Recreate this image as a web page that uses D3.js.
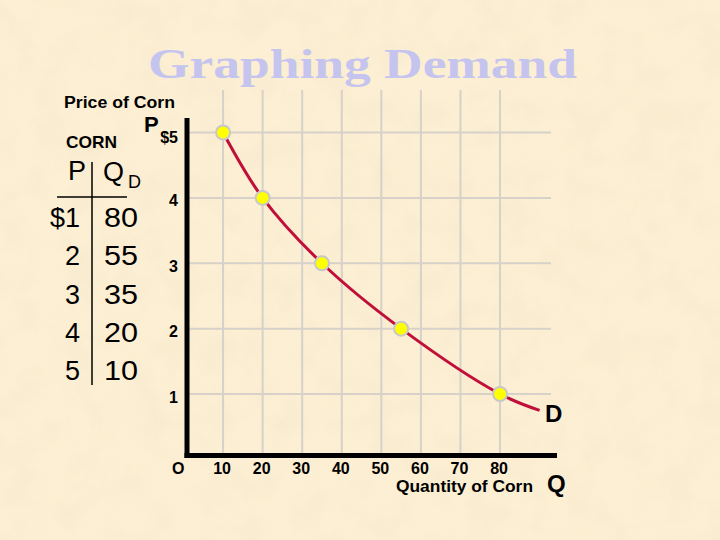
<!DOCTYPE html>
<html>
<head>
<meta charset="utf-8">
<script src="https://cdn.jsdelivr.net/npm/d3@7"></script>
<style>
  html, body { margin: 0; padding: 0; background: #fbedd0; }
  svg { display: block; font-family: Arial, "Liberation Sans", sans-serif; }
</style>
</head>
<body>
<svg id="chart" width="720" height="540"></svg>
<script>
// ---- data ----
const prices = [1, 2, 3, 4, 5];
const quantities = [80, 55, 35, 20, 10];
const priceLabels = ["$1", "2", "3", "4", "5"];
const xTicks = [10, 20, 30, 40, 50, 60, 70, 80];
const yTicks = [1, 2, 3, 4, 5];
const curveEnd = { q: 90, p: 0.75 };   // demand curve continues past the last point
const titleText = "Graphing Demand";

const svg = d3.select("#chart");
const W = 720, H = 540;
const SANS = "Arial, 'Liberation Sans', sans-serif";

// ---- background (parchment) ----
const defs = svg.append("defs");
const f = defs.append("filter").attr("id", "paper").attr("x", 0).attr("y", 0).attr("width", 1).attr("height", 1);
f.append("feTurbulence").attr("type", "fractalNoise").attr("baseFrequency", "0.03").attr("numOctaves", 4).attr("seed", 7);
f.append("feColorMatrix").attr("type", "matrix")
  .attr("values", "0 0 0 0 0.92  0 0 0 0 0.80  0 0 0 0 0.60  0 0 0 -1.8 1.1");
svg.append("rect").attr("width", W).attr("height", H).attr("fill", "#fcefd3");
svg.append("rect").attr("width", W).attr("height", H).attr("filter", "url(#paper)").attr("opacity", 0.6);

// ---- scales ----
const x = d3.scaleLinear().domain([0, 90]).range([183.5, 539.6]);
const y = d3.scaleLinear().domain([0, 5]).range([459.4, 132.5]);

// ---- grid ----
const grid = svg.append("g").attr("stroke", "#d6d1c9").attr("stroke-width", 2);
grid.selectAll("line.v").data(xTicks).join("line").attr("class", "v")
  .attr("x1", d => x(d)).attr("x2", d => x(d)).attr("y1", 90).attr("y2", 455);
grid.selectAll("line.h").data(yTicks).join("line").attr("class", "h")
  .attr("x1", 187).attr("x2", 551).attr("y1", d => y(d)).attr("y2", d => y(d));

// ---- title ----
svg.append("text").text(titleText)
  .attr("x", 148).attr("y", 78)
  .style("font-family", "'Liberation Serif', 'Times New Roman', 'DejaVu Serif', serif")
  .style("font-weight", "bold").style("font-size", "43px")
  .attr("fill", "#c4c4ef")
  .attr("textLength", 429).attr("lengthAdjust", "spacingAndGlyphs");

// ---- axes lines ----
svg.append("line").attr("x1", 187).attr("x2", 187).attr("y1", 118).attr("y2", 458)
  .attr("stroke", "#000").attr("stroke-width", 5);
svg.append("line").attr("x1", 184.5).attr("x2", 557).attr("y1", 455.5).attr("y2", 455.5)
  .attr("stroke", "#000").attr("stroke-width", 5);

// ---- axis tick labels via d3 axes ----
const yAxis = d3.axisLeft(y).tickValues(yTicks).tickSize(0).tickPadding(0)
  .tickFormat(d => d === 5 ? "$5" : String(d));
const yg = svg.append("g").attr("transform", "translate(178,0)").call(yAxis)
  .attr("font-size", null).attr("font-family", null);
yg.select(".domain").remove();
yg.selectAll("text")
  .style("font-family", SANS)
  .style("font-weight", "bold").style("font-size", "16px").attr("fill", "#000")
  .attr("dy", d => d === 5 ? "0.6em" : "0.5em");

const xAxis = d3.axisBottom(x).tickValues(xTicks).tickSize(0).tickPadding(0);
const xg = svg.append("g").attr("transform", "translate(-1.5,0)").call(xAxis)
  .attr("font-size", null).attr("font-family", null);
xg.select(".domain").remove();
xg.selectAll("text")
  .style("font-family", SANS)
  .style("font-weight", "bold").style("font-size", "16px").attr("fill", "#000")
  .attr("y", 473.5).attr("dy", 0);

// ---- axis labels ----
function label(txt, xx, yy, size, opts = {}) {
  const t = svg.append("text").text(txt).attr("x", xx).attr("y", yy)
    .style("font-size", size + "px").attr("fill", "#000")
    .style("font-family", SANS)
    .style("font-weight", opts.weight || "bold")
    .attr("text-anchor", opts.anchor || "start");
  if (opts.len) t.attr("textLength", opts.len).attr("lengthAdjust", "spacingAndGlyphs");
  return t;
}
label("Price of Corn", 64, 107.5, 16, { len: 111 });
label("P", 144, 132, 22);
label("O", 172, 473.5, 16);
label("Quantity of Corn", 396, 492, 16, { len: 137 });
label("Q", 547, 492, 24);
label("D", 545, 422, 24);

// ---- demand schedule table ----
label("CORN", 66, 148, 17, { len: 51 });
label("P", 68, 180, 27, { weight: "normal" });
label("Q", 103, 181, 27, { weight: "normal" });
label("D", 128, 188, 18, { weight: "normal" });
svg.append("line").attr("x1", 57).attr("x2", 127).attr("y1", 197).attr("y2", 197)
  .attr("stroke", "#000").attr("stroke-width", 1.5);
svg.append("line").attr("x1", 92).attr("x2", 92).attr("y1", 162).attr("y2", 385)
  .attr("stroke", "#000").attr("stroke-width", 1.5);
const rowY = d3.scaleLinear().domain([0, 4]).range([227, 380]);
const tbl = svg.append("g");
tbl.selectAll("text.p").data(prices).join("text").attr("class", "p")
  .text((d, i) => priceLabels[i])
  .attr("x", 80).attr("y", (d, i) => rowY(i))
  .attr("text-anchor", "end").style("font-size", "27px").style("font-family", SANS).attr("fill", "#000");
tbl.selectAll("text.q").data(quantities).join("text").attr("class", "q")
  .text(d => d)
  .attr("x", 104).attr("y", (d, i) => rowY(i))
  .style("font-size", "27px").style("font-family", SANS).attr("fill", "#000")
  .attr("textLength", 34).attr("lengthAdjust", "spacingAndGlyphs");

// ---- demand curve ----
const pts = prices.map((p, i) => ({ p, q: quantities[i] })).sort((a, b) => a.q - b.q);
const curvePts = pts.concat([curveEnd]);
const line = d3.line().x(d => x(d.q)).y(d => y(d.p)).curve(d3.curveCatmullRom.alpha(0.5));
svg.append("path").datum(curvePts).attr("d", line)
  .attr("fill", "none").attr("stroke", "#c0103a").attr("stroke-width", 3);

svg.selectAll("circle.pt").data(pts).join("circle").attr("class", "pt")
  .attr("cx", d => x(d.q)).attr("cy", d => y(d.p)).attr("r", 7)
  .attr("fill", "#ffff00").attr("stroke", "#c8c8c8").attr("stroke-width", 2);
</script>
</body>
</html>
